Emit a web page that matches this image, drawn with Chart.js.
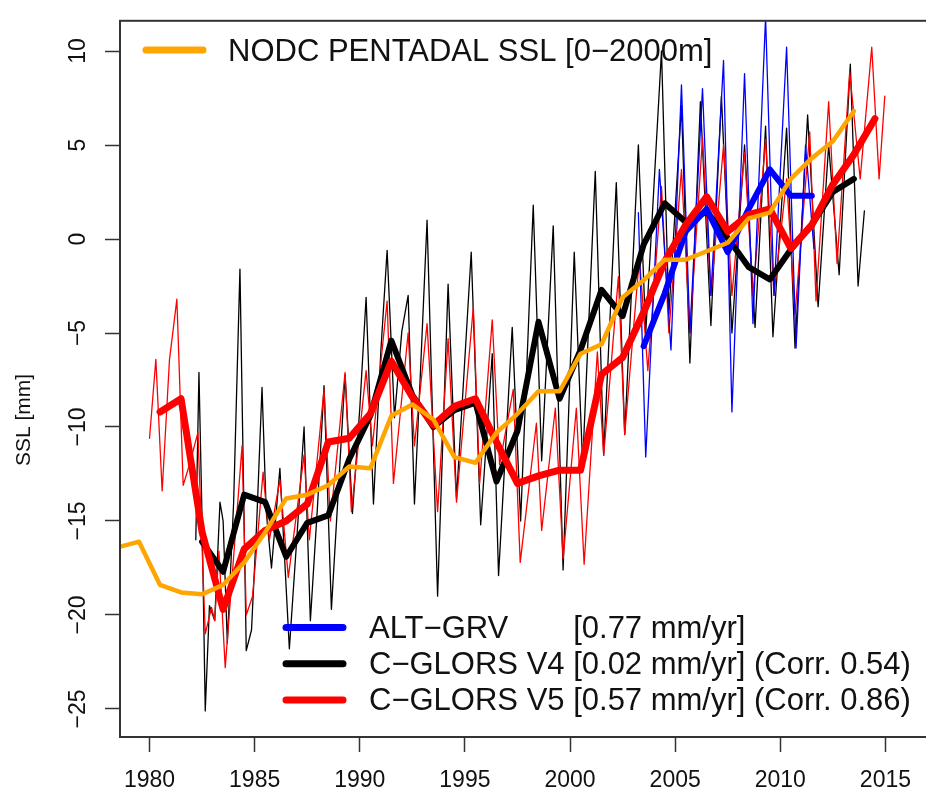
<!DOCTYPE html>
<html>
<head>
<meta charset="utf-8">
<title>SSL</title>
<script src="https://cdn.jsdelivr.net/npm/chart.js@4.4.1/dist/chart.umd.min.js"></script>
<style>
  html, body { margin: 0; padding: 0; background: #fff; overflow: hidden; }
  #wrap { width: 926px; height: 791px; }
</style>
</head>
<body>
<div id="wrap"><canvas id="sslChart" width="926" height="791"></canvas></div>
<script>
// Marcas de los ejes
const xTicks = [1980, 1985, 1990, 1995, 2000, 2005, 2010, 2015];
const yTicks = [-25, -20, -15, -10, -5, 0, 5, 10];
const yTitle = 'SSL [mm]';

// NODC pentadal SSL [0-2000m] (naranja)
const nodcYears = [1978.5, 1979.5, 1980.5, 1981.5, 1982.5, 1983.5, 1984.5, 1985.5, 1986.5, 1987.5,
  1988.5, 1989.5, 1990.5, 1991.5, 1992.5, 1993.5, 1994.5, 1995.5, 1996.5, 1997.5,
  1998.5, 1999.5, 2000.5, 2001.5, 2002.5, 2003.5, 2004.5, 2005.5, 2006.5, 2007.5,
  2008.5, 2009.5, 2010.5, 2011.5, 2012.5, 2013.5];
const nodcSSL = [-16.4, -16.1, -18.4, -18.8, -18.9, -18.4, -17.2, -15.6, -13.8, -13.6,
  -13.1, -12.1, -12.2, -9.4, -8.8, -9.6, -11.6, -11.9, -10.3, -9.3,
  -8.1, -8.1, -6.1, -5.6, -3.1, -2.2, -1.1, -1.1, -0.65, -0.2,
  1.1, 1.4, 3.2, 4.3, 5.2, 6.8];

// Medias anuales C-GLORS V4 (negro grueso)
const v4AnnualYears = [1982.5, 1983.5, 1984.5, 1985.5, 1986.5, 1987.5, 1988.5, 1989.5, 1990.5, 1991.5,
  1992.5, 1993.5, 1994.5, 1995.5, 1996.5, 1997.5, 1998.5, 1999.5, 2000.5, 2001.5,
  2002.5, 2003.5, 2004.5, 2005.5, 2006.5, 2007.5, 2008.5, 2009.5, 2010.5, 2011.5,
  2012.5, 2013.5];
const v4AnnualSSL = [-16.1, -17.7, -13.6, -14.0, -16.9, -15.1, -14.7, -11.7, -9.4, -5.4,
  -8.3, -10.0, -9.1, -8.7, -12.9, -10.2, -4.4, -8.5, -5.9, -2.7,
  -4.1, -0.3, 1.9, 0.9, 1.45, 0.05, -1.5, -2.15, -0.56, 0.75,
  2.5, 3.2];

// Medias anuales C-GLORS V5 (rojo grueso)
const v5AnnualYears = [1980.5, 1981.5, 1982.5, 1983.5, 1984.5, 1985.5, 1986.5, 1987.5, 1988.5, 1989.5,
  1990.5, 1991.5, 1992.5, 1993.5, 1994.5, 1995.5, 1996.5, 1997.5, 1998.5, 1999.5,
  2000.5, 2001.5, 2002.5, 2003.5, 2004.5, 2005.5, 2006.5, 2007.5, 2008.5, 2009.5,
  2010.5, 2011.5, 2012.5, 2013.5, 2014.5];
const v5AnnualSSL = [-9.2, -8.5, -15.6, -19.7, -16.5, -15.5, -15.0, -14.1, -10.8, -10.6,
  -9.3, -6.5, -8.4, -9.9, -8.9, -8.5, -10.8, -13.0, -12.6, -12.3,
  -12.3, -7.2, -6.3, -3.9, -1.2, 0.75, 2.25, 0.4, 1.3, 1.6,
  -0.5, 0.75, 2.9, 4.5, 6.4];

// Medias anuales ALT-GRV (azul grueso)
const altAnnualYears = [2003.5, 2004.5, 2005.5, 2006.5, 2007.5, 2008.5, 2009.5, 2010.5, 2011.5];
const altAnnualSSL = [-5.7, -2.9, 0.4, 1.6, -0.7, 1.6, 3.7, 2.3, 2.3];

// Serie mensual C-GLORS V4 (negro fino)
const v4MonthlyYears = [1982.2, 1982.35, 1982.5, 1982.65, 1982.85, 1983.1, 1983.35, 1983.5, 1983.7, 1984.0,
  1984.3, 1984.6, 1984.85, 1985.1, 1985.35, 1985.55, 1985.8, 1986.2, 1986.65, 1987.0,
  1987.35, 1987.65, 1988.0, 1988.3, 1988.65, 1989.0, 1989.3, 1989.65, 1990.0, 1990.3,
  1990.65, 1991.0, 1991.3, 1991.65, 1992.0, 1992.3, 1992.6, 1992.9, 1993.2, 1993.7,
  1994.2, 1994.6, 1995.3, 1995.75, 1996.3, 1996.6, 1997.25, 1997.65, 1998.25, 1998.65,
  1999.2, 1999.67, 2000.2, 2000.6, 2001.2, 2001.6, 2002.2, 2002.6, 2003.25, 2003.6,
  2004.35, 2004.7, 2005.3, 2005.7, 2006.2, 2006.7, 2007.2, 2007.7, 2008.3, 2008.8,
  2009.3, 2009.65, 2010.3, 2010.7, 2011.3, 2011.8, 2012.3, 2012.8, 2013.33, 2013.7,
  2014.0];
const v4MonthlySSL = [-16.0, -7.1, -15.0, -25.1, -19.5, -20.3, -14.0, -15.0, -21.5, -14.0,
  -1.6, -21.9, -20.8, -15.0, -7.9, -14.5, -17.5, -12.2, -21.8, -16.0,
  -10.0, -20.3, -14.0, -7.8, -19.7, -13.0, -7.2, -14.6, -9.0, -3.1,
  -14.1, -6.0, -0.6, -9.5, -4.9, -3.0, -14.1, -6.7, 1.0, -19.0,
  -2.4, -13.8, -0.7, -15.2, -6.1, -17.9, -4.7, -15.0, 1.8, -11.8,
  0.7, -17.6, -0.7, -12.0, 3.6, -11.5, 3.0, -10.4, 5.0, -5.0,
  10.0, -4.0, 7.1, -6.6, 7.3, -4.6, 7.6, -5.0, 5.0, -4.7,
  6.0, -5.2, 5.9, -5.8, 6.6, -3.6, 5.0, -1.9, 9.3, -2.5,
  1.5];

// Serie mensual C-GLORS V5 (rojo fino)
const v5MonthlyYears = [1980.0, 1980.3, 1980.6, 1980.95, 1981.3, 1981.6, 1981.9, 1982.3, 1982.65, 1982.95,
  1983.1, 1983.3, 1983.6, 1984.4, 1984.6, 1984.9, 1985.4, 1985.7, 1986.2, 1986.6,
  1987.35, 1987.6, 1988.3, 1988.6, 1989.3, 1989.6, 1990.3, 1990.6, 1991.3, 1991.6,
  1992.3, 1992.6, 1993.2, 1993.7, 1994.2, 1994.6, 1995.4, 1995.7, 1996.3, 1996.65,
  1997.3, 1997.63, 1998.4, 1998.65, 1999.3, 1999.67, 2000.3, 2000.67, 2001.3, 2001.6,
  2002.3, 2002.6, 2003.3, 2003.7, 2004.35, 2004.7, 2005.3, 2005.7, 2006.3, 2006.7,
  2007.3, 2007.7, 2008.3, 2008.7, 2009.3, 2009.7, 2010.3, 2010.7, 2011.4, 2011.7,
  2012.3, 2012.7, 2013.3, 2013.8, 2014.35, 2014.7, 2014.97];
const v5MonthlySSL = [-10.6, -6.4, -13.4, -6.4, -3.2, -13.1, -12.0, -10.3, -21.0, -19.6,
  -20.3, -16.6, -22.8, -11.0, -20.0, -19.0, -12.4, -16.0, -12.8, -18.0,
  -11.5, -16.0, -8.0, -15.0, -7.1, -14.5, -7.0, -11.0, -3.3, -13.0,
  -5.0, -11.0, -4.5, -14.5, -5.3, -14.0, -3.6, -13.0, -4.3, -12.0,
  -8.0, -17.2, -9.8, -15.5, -9.0, -17.0, -9.0, -17.3, -6.0, -11.5,
  -2.0, -10.4, -1.0, -7.0, 2.8, -5.0, 3.7, -5.0, 5.4, -3.0,
  5.0, -3.0, 4.6, -3.0, 5.3, -3.0, 3.2, -4.0, 5.7, -3.3,
  7.3, -1.3, 8.9, 3.2, 10.2, 3.2, 7.6];

// Serie mensual ALT-GRV (azul fino)
const altMonthlyYears = [2003.25, 2003.6, 2004.25, 2004.8, 2005.3, 2005.7, 2006.3, 2006.7, 2007.3, 2007.7,
  2008.3, 2008.7, 2009.3, 2009.7, 2010.3, 2010.75, 2011.2, 2011.6];
const altMonthlySSL = [1.4, -11.6, 3.7, -5.9, 8.2, -5.0, 8.0, -3.0, 9.5, -9.2,
  8.8, -4.5, 11.8, -3.0, 10.2, -5.8, 5.0, -0.5];

// Leyendas
const topLegendLabel = 'NODC PENTADAL SSL [0\u22122000m]';
const bottomLegendNames = ['ALT\u2212GRV', 'C\u2212GLORS V4 ', 'C\u2212GLORS V5 '];
const bottomLegendStats = ['[0.77 mm/yr]', '[0.02 mm/yr] (Corr. 0.54)', '[0.57 mm/yr] (Corr. 0.86)'];

const ORANGE = '#ffa500', RED = '#ff0000', BLUE = '#0000ff', BLACK = '#000000';
const FONT = '"Liberation Sans", Arial, Helvetica, sans-serif';

function pts(xs, ys) {
  return xs.map((x, i) => ({ x: x, y: ys[i] }));
}

function line(label, xs, ys, color, width, order) {
  return {
    label: label,
    data: pts(xs, ys),
    borderColor: color,
    backgroundColor: color,
    borderWidth: width,
    pointRadius: 0,
    tension: 0,
    fill: false,
    borderCapStyle: 'round',
    borderJoinStyle: 'round',
    clip: 0,
    order: order
  };
}

// Marco, etiqueta del eje y y leyendas
const extras = {
  id: 'extras',
  afterDraw(chart) {
    const ctx = chart.ctx;
    const a = chart.chartArea;
    ctx.save();
    ctx.strokeStyle = '#333';
    ctx.lineWidth = 2;
    ctx.strokeRect(a.left, a.top, a.right - a.left + 20, a.bottom - a.top);

    ctx.fillStyle = '#111';
    ctx.save();
    ctx.translate(24, 420);
    ctx.rotate(-Math.PI / 2);
    ctx.font = '21px ' + FONT;
    ctx.textAlign = 'center';
    ctx.textBaseline = 'middle';
    ctx.fillText(yTitle, 0, 0);
    ctx.restore();

    ctx.font = '31px ' + FONT;
    ctx.textAlign = 'left';
    ctx.textBaseline = 'alphabetic';
    ctx.lineCap = 'round';
    ctx.lineWidth = 7;

    ctx.strokeStyle = ORANGE;
    ctx.beginPath(); ctx.moveTo(146, 50); ctx.lineTo(203, 50); ctx.stroke();
    ctx.fillText(topLegendLabel, 228, 61);

    const colors = [BLUE, BLACK, RED];
    const statX = 369 + ctx.measureText(bottomLegendNames[1]).width;
    for (let i = 0; i < 3; i++) {
      const base = 638 + i * 36.2;
      ctx.strokeStyle = colors[i];
      ctx.beginPath(); ctx.moveTo(286, base - 10.5); ctx.lineTo(343, base - 10.5); ctx.stroke();
      ctx.fillText(bottomLegendNames[i], 369, base);
      ctx.fillText(bottomLegendStats[i], statX, base);
    }
    ctx.restore();
  }
};

new Chart(document.getElementById('sslChart').getContext('2d'), {
  type: 'line',
  data: {
    datasets: [
      line('NODC', nodcYears, nodcSSL, ORANGE, 4.5, 0),
      line('V5 anual', v5AnnualYears, v5AnnualSSL, RED, 7, 1),
      line('ALT anual', altAnnualYears, altAnnualSSL, BLUE, 6, 2),
      line('V4 anual', v4AnnualYears, v4AnnualSSL, BLACK, 6, 3),
      line('ALT mensual', altMonthlyYears, altMonthlySSL, BLUE, 1.3, 4),
      line('V5 mensual', v5MonthlyYears, v5MonthlySSL, RED, 1.3, 5),
      line('V4 mensual', v4MonthlyYears, v4MonthlySSL, BLACK, 1.3, 6)
    ]
  },
  options: {
    responsive: false,
    animation: false,
    devicePixelRatio: 1,
    layout: { padding: { top: 14, right: 0, bottom: 0, left: 0 } },
    plugins: { legend: { display: false }, tooltip: { enabled: false } },
    scales: {
      x: {
        type: 'linear',
        min: 1978.595,
        max: 2016.35,
        afterBuildTicks: s => { s.ticks = xTicks.map(v => ({ value: v })); },
        afterFit: s => { s.height = 54; },
        grid: { drawOnChartArea: false, tickLength: 15, tickColor: '#333', tickWidth: 1.5 },
        border: { display: false },
        ticks: {
          padding: 15,
          maxRotation: 0,
          autoSkip: false,
          color: '#111',
          font: { family: FONT, size: 23 },
          callback: v => String(v)
        }
      },
      y: {
        type: 'linear',
        min: -26.49,
        max: 11.607,
        afterBuildTicks: s => { s.ticks = yTicks.map(v => ({ value: v })); },
        afterFit: s => { s.width = 120; },
        grid: { drawOnChartArea: false, tickLength: 15, tickColor: '#333', tickWidth: 1.5 },
        border: { display: false },
        ticks: {
          padding: 7,
          minRotation: 90,
          maxRotation: 90,
          crossAlign: 'center',
          autoSkip: false,
          color: '#111',
          font: { family: FONT, size: 23 },
          callback: v => String(v).replace('-', '\u2212')
        }
      }
    }
  },
  plugins: [extras]
});
</script>
</body>
</html>
